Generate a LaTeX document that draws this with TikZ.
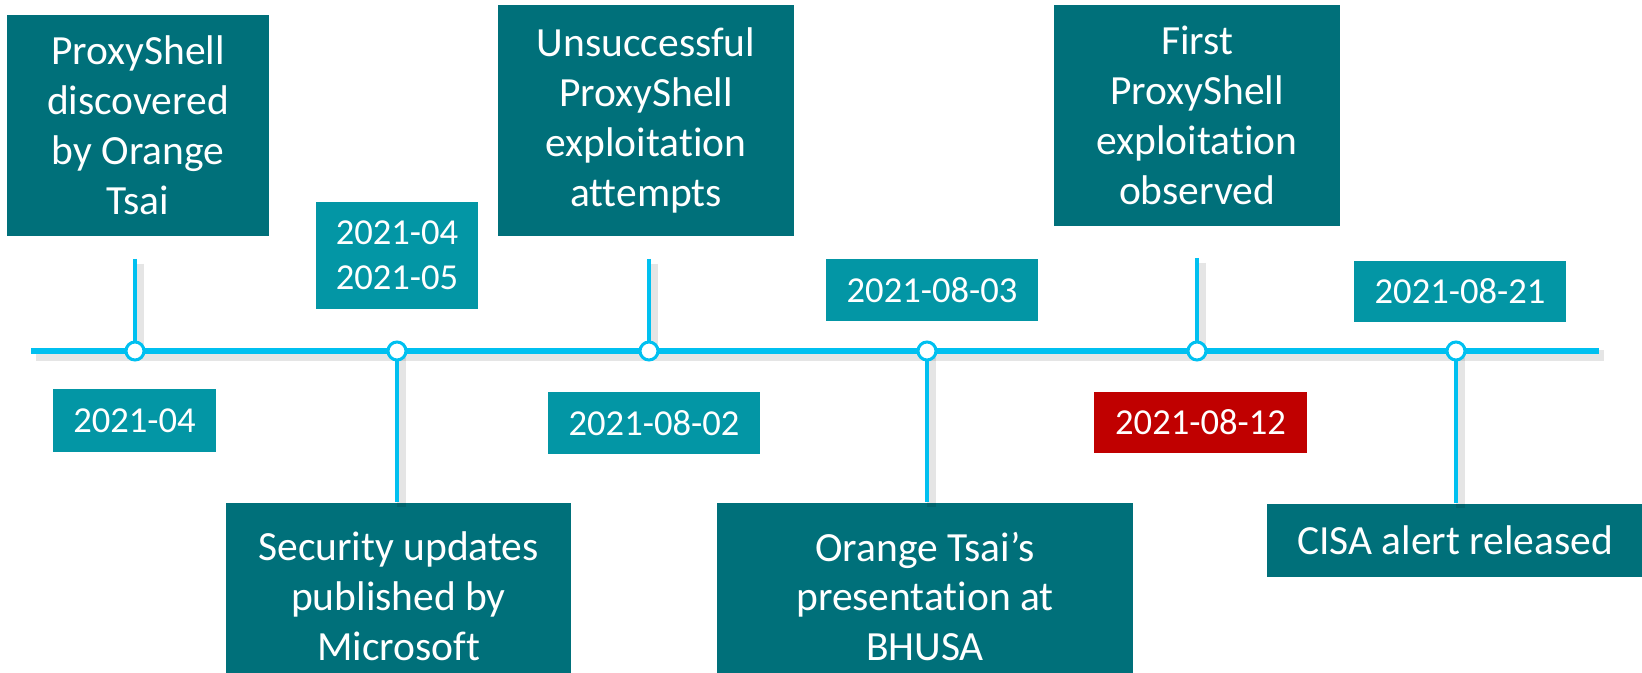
\documentclass[tikz,border=0pt]{standalone}
\usepackage{fontspec}
\setmainfont[Ligatures=CommonOff]{Carlito}
\definecolor{evteal}{RGB}{0,112,122}
\definecolor{dateteal}{RGB}{3,150,165}
\definecolor{lineblue}{RGB}{0,192,240}
\definecolor{alertred}{RGB}{192,0,0}

\begin{document}
\begin{tikzpicture}[x=0.01cm, y=-0.01cm,
	evbox/.style={fill=evteal, text=white, align=center, inner sep=0pt, font=\fontsize{11.8}{14.2}\selectfont},
	datebox/.style={fill=dateteal, text=white, align=center, inner sep=0pt, minimum width=2.12cm, minimum height=0.62cm, font=\fontsize{10.4}{12.8}\selectfont},
	tickdot/.style={circle, draw=lineblue, fill=white, line width=0.3mm, minimum size=1.8mm, inner sep=0pt},
	blueline/.style={draw=lineblue, line width=#1, preaction={draw=black, opacity=0.1, line width=#1+0.5mm, transform canvas={xshift=0.45mm, yshift=-0.45mm}}}]
	\useasboundingbox (0,0) rectangle (1642,673);
	\node[evbox, minimum width=2.62cm, minimum height=2.21cm] (disc) at (138,125.5) {ProxyShell\\discovered\\by Orange\\Tsai};
	\node[datebox, minimum width=1.63cm, minimum height=0.63cm] (d1) at (134.5,420.5) {2021-04};
	\node[datebox, minimum width=1.62cm, minimum height=1.07cm] (d2) at (397,255.5) {2021-04\\2021-05};
	\node[evbox, minimum width=3.45cm, minimum height=1.87cm] (patch) at (398.5,596.5) {Security updates\\published by\\Microsoft};
	\node[evbox, minimum width=2.96cm, minimum height=2.31cm] (fail) at (646,120.5) {Unsuccessful\\ProxyShell\\exploitation\\attempts};
	\node[datebox] (d3) at (654,423) {2021-08-02};
	\node[datebox] (d4) at (932,290) {2021-08-03};
	\node[evbox, minimum width=4.16cm, minimum height=1.87cm] (talk) at (925,596.5) {Orange Tsai’s\\presentation at\\BHUSA};
	\node[evbox, minimum width=2.86cm, minimum height=2.21cm] (first) at (1197,115.5) {First\\ProxyShell\\exploitation\\observed};
	\node[datebox, fill=alertred, minimum width=2.13cm, minimum height=0.61cm] (d5) at (1200.5,422.5) {2021-08-12};
	\node[datebox, minimum height=0.61cm] (d6) at (1460,291.5) {2021-08-21};
	\node[evbox, minimum width=3.76cm, minimum height=0.73cm] (cisa) at (1455,540.5) {CISA alert released};

	\coordinate (tl0) at (31,351);
	\coordinate (tl1) at (1599,351);
	\coordinate (s1) at (135,259);
	\coordinate (s3) at (649,259);
	\coordinate (s5) at (1197,258);
	\coordinate (p1) at (135,351);
	\coordinate (p2) at (397,351);
	\coordinate (p3) at (649,351);
	\coordinate (p4) at (927,351);
	\coordinate (p5) at (1197,351);
	\coordinate (p6) at (1456,351);

	\path[blueline=0.35mm] (s1) -- (p1);
	\path[blueline=0.35mm] (s3) -- (p3);
	\path[blueline=0.35mm] (s5) -- (p5);
	\path[blueline=0.35mm] (p2) -- (p2 |- patch.north);
	\path[blueline=0.35mm] (p4) -- (p4 |- talk.north);
	\path[blueline=0.35mm] (p6) -- (p6 |- cisa.north);
	\path[blueline=0.6mm] (tl0) -- (tl1);
	\node[tickdot] (t1) at (p1) {};
	\node[tickdot] (t2) at (p2) {};
	\node[tickdot] (t3) at (p3) {};
	\node[tickdot] (t4) at (p4) {};
	\node[tickdot] (t5) at (p5) {};
	\node[tickdot] (t6) at (p6) {};
\end{tikzpicture}
\end{document}
